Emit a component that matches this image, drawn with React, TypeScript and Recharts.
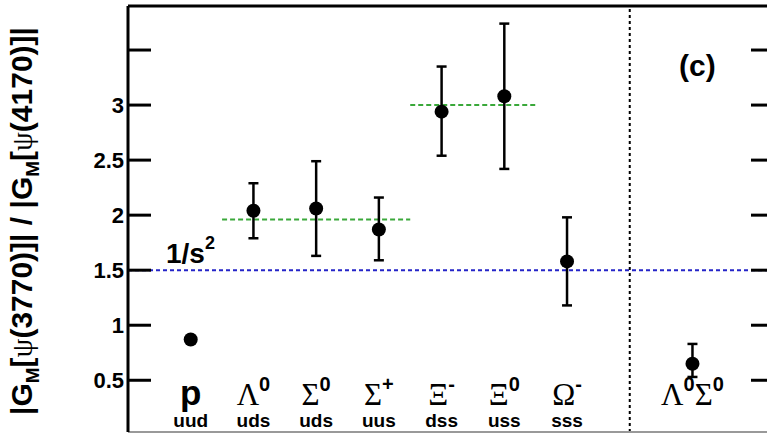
import { ComposedChart, Scatter, ErrorBar, XAxis, YAxis, ReferenceLine } from 'recharts';

// categories (x slot, symbol parts, quark content)
const xPos = [0, 1, 2, 3, 4, 5, 6, 8];
const symbols = [
  [['p', '']],
  [['Λ', '0']],
  [['Σ', '0']],
  [['Σ', '+']],
  [['Ξ', '-']],
  [['Ξ', '0']],
  [['Ω', '-']],
  [['Λ', '0'], ['Σ', '0']],
];
const quarks = ['uud', 'uds', 'uds', 'uus', 'dss', 'uss', 'sss', ''];

// ratio values with asymmetric errors
const ratios = [0.87, 2.04, 2.06, 1.87, 2.94, 3.08, 1.58, 0.65];
const errDown = [0, 0.25, 0.43, 0.28, 0.4, 0.66, 0.4, 0.12];
const errUp = [0, 0.25, 0.43, 0.29, 0.41, 0.66, 0.4, 0.18];

// group averages (green dashed)
const groupLevel = [1.96, 3.0];
const groupFrom = [0.5, 3.5];
const groupTo = [3.5, 5.5];

const yTicks = [0.5, 1, 1.5, 2, 2.5, 3, 3.5];
const yTickLabels = ['0.5', '1', '1.5', '2', '2.5', '3', ''];
const sLine = 1.5;
const dividerX = 7;

const data = xPos.map((x, i) => ({ x, y: ratios[i], err: [errDown[i], errUp[i]] }));

const SANS = '"Liberation Sans", Arial, Helvetica, sans-serif';
const SERIF = '"Liberation Serif", "Times New Roman", serif';

function LeftTick(props: any) {
  const { x, y, payload } = props;
  const i = yTicks.indexOf(payload.value);
  return (
    <g>
      <line x1={x} x2={x + 23} y1={y} y2={y} stroke="#000" strokeWidth={3} />
      <text x={x - 4} y={y + 8} textAnchor="end" fontFamily={SANS} fontWeight="bold" fontSize={22} fill="#000">
        {yTickLabels[i]}
      </text>
    </g>
  );
}

function RightTick(props: any) {
  const { x, y } = props;
  return <line x1={x - 23} x2={x} y1={y} y2={y} stroke="#000" strokeWidth={3} />;
}

function CatTick(props: any) {
  const { x, y, payload } = props;
  const i = xPos.indexOf(payload.value);
  if (i < 0) return null;
  const parts = symbols[i];
  return (
    <g>
      <text x={x} y={y - 27} textAnchor="middle" fill="#000">
        {parts.map(([base, sup], k) => (
          <tspan key={k}>
            <tspan
              dy={k === 0 ? 0 : 14}
              fontFamily={base === 'p' ? SANS : SERIF}
              fontWeight={base === 'p' ? 'bold' : 'normal'}
              fontSize={base === 'p' ? 35 : 31}
            >
              {base}
            </tspan>
            {sup && (
              <tspan dy={-14} fontFamily={SANS} fontWeight="bold" fontSize={20}>
                {sup}
              </tspan>
            )}
          </tspan>
        ))}
      </text>
      {quarks[i] && (
        <text x={x} y={y - 5} textAnchor="middle" fontFamily={SANS} fontWeight="bold" fontSize={19} fill="#000">
          {quarks[i]}
        </text>
      )}
    </g>
  );
}

const Dot = (props: any) => <circle cx={props.cx} cy={props.cy} r={7} fill="#000" />;

export default function App() {
  return (
    <div style={{ position: 'fixed', left: 0, top: 0, width: 767, height: 433, overflow: 'hidden', background: '#fff' }}>
      <ComposedChart width={790} height={433} margin={{ top: 6, right: 0, bottom: 0, left: 0 }} data={data}>
        <XAxis
          type="number"
          dataKey="x"
          domain={[-1, 9.3]}
          allowDataOverflow
          ticks={xPos}
          interval={0}
          tick={<CatTick />}
          tickLine={false}
          tickSize={0}
          tickMargin={0}
          height={1}
          axisLine={{ stroke: '#999', strokeWidth: 2 }}
        />
        <YAxis
          yAxisId="left"
          type="number"
          domain={[0.03, 3.9]}
          allowDataOverflow
          ticks={yTicks}
          interval={0}
          width={128}
          tick={<LeftTick />}
          tickLine={false}
          tickSize={0}
          tickMargin={0}
          axisLine={{ stroke: '#000', strokeWidth: 3 }}
        />
        <YAxis
          yAxisId="right"
          orientation="right"
          type="number"
          domain={[0.03, 3.9]}
          allowDataOverflow
          ticks={yTicks}
          interval={0}
          width={16}
          tick={<RightTick />}
          tickLine={false}
          tickSize={0}
          tickMargin={0}
          axisLine={{ stroke: '#000', strokeWidth: 3 }}
        />
        <ReferenceLine yAxisId="left" y={3.9} stroke="#000" strokeWidth={3} />
        <ReferenceLine yAxisId="left" y={sLine} stroke="#2424c8" strokeWidth={2} strokeDasharray="4 3" />
        <ReferenceLine yAxisId="left" x={dividerX} stroke="#000" strokeWidth={2} strokeDasharray="3 3" />
        {groupLevel.map((lv, i) => (
          <ReferenceLine
            key={i}
            yAxisId="left"
            segment={[{ x: groupFrom[i], y: lv }, { x: groupTo[i], y: lv }]}
            stroke="#3aa83a"
            strokeWidth={2}
            strokeDasharray="5 3"
          />
        ))}
        <Scatter yAxisId="left" dataKey="y" shape={<Dot />} isAnimationActive={false}>
          <ErrorBar dataKey="err" direction="y" width={5} stroke="#000" strokeWidth={2.5} />
        </Scatter>
        <text x={166} y={263} fontFamily={SANS} fontWeight="bold" fontSize={28} fill="#000">
          1/s<tspan dy={-14} fontSize={18}>2</tspan>
        </text>
        <text x={679} y={76} fontFamily={SANS} fontWeight="bold" fontSize={30} fill="#000">
          (c)
        </text>
        <text
          transform="translate(32,221) rotate(-90)"
          textAnchor="middle"
          fontFamily={SANS}
          fontWeight="bold"
          fontSize={30}
          fill="#000"
        >
          |G<tspan dy={7} fontSize={19}>M</tspan>
          <tspan dy={-7}>[</tspan>
          <tspan fontFamily={SERIF} fontWeight="normal">ψ</tspan>(3770)]| / |G<tspan dy={7} fontSize={19}>M</tspan>
          <tspan dy={-7}>[</tspan>
          <tspan fontFamily={SERIF} fontWeight="normal">ψ</tspan>(4170)]|
        </text>
      </ComposedChart>
    </div>
  );
}
